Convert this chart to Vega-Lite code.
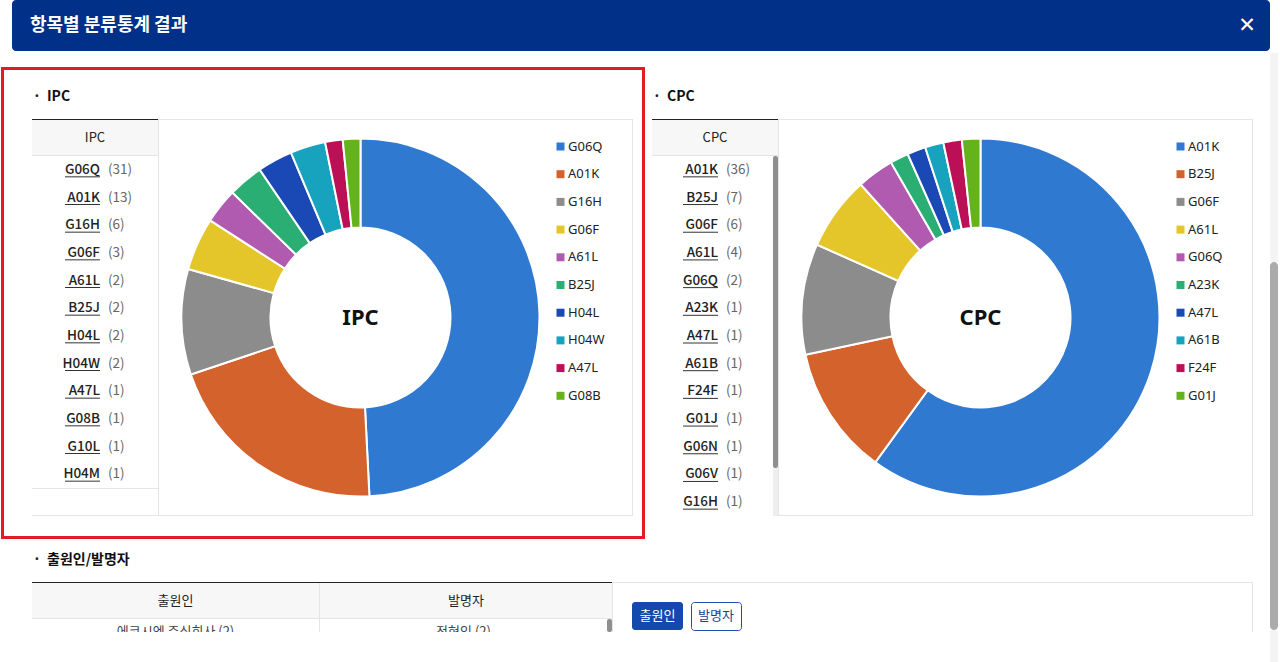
{
"$schema": "https://vega.github.io/schema/vega-lite/v6.json",
"padding": 0,
"background": "#ffffff",
"config": {"view": {"stroke": null}, "concat": {"spacing": 0}},
"datasets": {
 "ipc": [
  {"code": "G06Q", "n": 31, "rank": 1}, {"code": "A01K", "n": 13, "rank": 2}, {"code": "G16H", "n": 6, "rank": 3},
  {"code": "G06F", "n": 3, "rank": 4}, {"code": "A61L", "n": 2, "rank": 5}, {"code": "B25J", "n": 2, "rank": 6},
  {"code": "H04L", "n": 2, "rank": 7}, {"code": "H04W", "n": 2, "rank": 8}, {"code": "A47L", "n": 1, "rank": 9},
  {"code": "G08B", "n": 1, "rank": 10}, {"code": "G10L", "n": 1, "rank": 11}, {"code": "H04M", "n": 1, "rank": 12}
 ],
 "cpc": [
  {"code": "A01K", "n": 36, "rank": 1}, {"code": "B25J", "n": 7, "rank": 2}, {"code": "G06F", "n": 6, "rank": 3},
  {"code": "A61L", "n": 4, "rank": 4}, {"code": "G06Q", "n": 2, "rank": 5}, {"code": "A23K", "n": 1, "rank": 6},
  {"code": "A47L", "n": 1, "rank": 7}, {"code": "A61B", "n": 1, "rank": 8}, {"code": "F24F", "n": 1, "rank": 9},
  {"code": "G01J", "n": 1, "rank": 10}, {"code": "G06N", "n": 1, "rank": 11}, {"code": "G06V", "n": 1, "rank": 12},
  {"code": "G16H", "n": 1, "rank": 13}
 ]
},
"spacing": 0,
"resolve": {"scale": {"color": "independent"}, "legend": {"color": "independent"}},
"hconcat": [
 {"spacing": 0, "resolve": {"scale": {"color": "independent"}, "legend": {"color": "independent"}},
  "vconcat": [
   {"spacing": 0, "hconcat": [
     {"width": 12, "height": 51, "data": {"values": []}, "mark": "point", "encoding": {}},
     {"width": 1258, "height": 51, "view": {"fill": "#003087", "cornerRadius": 4},
      "data": {"values": [{"t": "항목별 분류통계 결과"}]},
      "layer": [
       {"mark": {"type": "text", "font": "Noto Sans CJK KR", "fontSize": 18, "fontWeight": "bold", "color": "#ffffff", "align": "left", "baseline": "middle"},
        "encoding": {"x": {"value": 18}, "y": {"value": 26}, "text": {"field": "t"}}},
       {"mark": {"type": "text", "font": "DejaVu Sans", "fontSize": 21, "fontWeight": "bold", "color": "#ffffff", "align": "center", "baseline": "middle"},
        "encoding": {"x": {"value": 1235}, "y": {"value": 26}, "text": {"value": "✕"}}}
      ]}
   ]},
   {"width": 1270, "height": 16, "data": {"values": []}, "mark": "point", "encoding": {}},
   {"spacing": 0, "resolve": {"scale": {"color": "independent"}, "legend": {"color": "independent"}},
    "hconcat": [
     {"width": 1, "height": 472, "data": {"values": []}, "mark": "point", "encoding": {}},
     {"spacing": 0, "resolve": {"scale": {"color": "independent"}, "legend": {"color": "independent"}},
      "vconcat": [
       {"width": 644, "height": 3, "view": {"fill": "#e31b23"}, "data": {"values": []}, "mark": "point", "encoding": {}},
       {"spacing": 0, "resolve": {"scale": {"color": "independent"}, "legend": {"color": "independent"}},
        "hconcat": [
         {"width": 3, "height": 466, "view": {"fill": "#e31b23"}, "data": {"values": []}, "mark": "point", "encoding": {}},
         {"spacing": 0, "resolve": {"scale": {"color": "independent"}, "legend": {"color": "independent"}},
          "vconcat": [
           {"width": 638, "height": 49, "data": {"values": [{"t": "IPC"}]},
            "layer": [
             {"mark": {"type": "text", "font": "Noto Sans CJK KR", "fontSize": 14, "fontWeight": "bold", "color": "#222222", "align": "center", "baseline": "middle"},
              "encoding": {"x": {"value": 33}, "y": {"value": 27}, "text": {"value": "·"}}},
             {"mark": {"type": "text", "font": "Noto Sans CJK KR", "fontSize": 14, "fontWeight": "bold", "color": "#111111", "align": "left", "baseline": "middle"},
              "encoding": {"x": {"value": 43}, "y": {"value": 27}, "text": {"field": "t"}}}
            ]},
           {"spacing": 0, "resolve": {"scale": {"color": "independent"}, "legend": {"color": "independent"}},
            "hconcat": [
             {"width": 28, "height": 397, "data": {"values": []}, "mark": "point", "encoding": {}},
             {"spacing": 0, "vconcat": [
               {"width": 126, "height": 1, "view": {"fill": "#222222"}, "data": {"values": []}, "mark": "point", "encoding": {}},
               {"width": 126, "height": 35, "view": {"fill": "#f7f7f7"}, "data": {"values": [{"t": "IPC"}]},
                "mark": {"type": "text", "font": "Noto Sans CJK KR", "fontSize": 13, "color": "#222222"}, "encoding": {"text": {"field": "t"}}},
               {"width": 126, "height": 1, "view": {"fill": "#e5e5e5"}, "data": {"values": []}, "mark": "point", "encoding": {}},
               {"width": 126, "height": 332, "data": {"name": "ipc"},
                "transform": [{"calculate": "'(' + datum.n + ')'", "as": "label"}],
                "encoding": {"y": {"field": "code", "type": "nominal", "sort": null, "axis": null}},
                "layer": [
                 {"mark": {"type": "text", "align": "right", "baseline": "middle", "font": "Noto Sans CJK KR", "fontSize": 13.5, "fontWeight": 500, "color": "#222222"},
                  "encoding": {"x": {"value": 68}, "text": {"field": "code"}}},
                 {"mark": {"type": "text", "align": "left", "baseline": "middle", "font": "Noto Sans CJK KR", "fontSize": 13.5, "color": "#666666"},
                  "encoding": {"x": {"value": 76}, "text": {"field": "label"}}},
                 {"mark": {"type": "rule", "color": "#333333", "strokeWidth": 1, "yOffset": 7},
                  "encoding": {"x": {"value": 33}, "x2": {"value": 68}}}
                ]},
               {"width": 126, "height": 1, "view": {"fill": "#e5e5e5"}, "data": {"values": []}, "mark": "point", "encoding": {}},
               {"width": 126, "height": 26, "data": {"values": []}, "mark": "point", "encoding": {}},
               {"width": 126, "height": 1, "view": {"fill": "#e5e5e5"}, "data": {"values": []}, "mark": "point", "encoding": {}}
             ]},
             {"spacing": 0, "resolve": {"scale": {"color": "independent"}, "legend": {"color": "independent"}},
              "vconcat": [
               {"width": 475, "height": 1, "view": {"fill": "#e5e5e5"}, "data": {"values": []}, "mark": "point", "encoding": {}},
               {"spacing": 0, "bounds": "flush", "resolve": {"scale": {"color": "independent"}, "legend": {"color": "independent"}},
                "hconcat": [
                 {"width": 1, "height": 395, "view": {"fill": "#e5e5e5"}, "data": {"values": []}, "mark": "point", "encoding": {}},
                 {"width": 403, "height": 395,
                  "layer": [
                   {"data": {"name": "ipc"}, "transform": [{"filter": "datum.rank <= 10"}],
                    "mark": {"type": "arc", "innerRadius": 90, "outerRadius": 179, "stroke": "#ffffff", "strokeWidth": 2},
                    "encoding": {
                     "theta": {"field": "n", "type": "quantitative", "stack": true},
                     "order": {"field": "rank", "type": "quantitative"},
                     "color": {"field": "code", "type": "nominal",
                      "scale": {"domain": ["G06Q","A01K","G16H","G06F","A61L","B25J","H04L","H04W","A47L","G08B"],
                                "range": ["#3079d1","#d4622c","#8c8c8c","#e4c62a","#b05bb0","#2aae73","#1a48b5","#17a3bd","#bb0f56","#64b31d"]},
                      "legend": {"orient": "none", "legendX": 395, "legendY": 20, "title": null, "symbolType": "square", "symbolSize": 64, "symbolStrokeWidth": 0,
                                 "labelFont": "Noto Sans", "labelFontSize": 13, "labelColor": "#222222", "rowPadding": 13.7, "padding": 0, "labelOffset": 1, "direction": "vertical"}}
                    }},
                   {"data": {"values": [{"t": "IPC"}]},
                    "mark": {"type": "text", "font": "Noto Sans", "fontSize": 22, "fontWeight": "bold", "color": "#111111"},
                    "encoding": {"text": {"field": "t"}}}
                  ]},
                 {"width": 70, "height": 395, "data": {"values": []}, "mark": "point", "encoding": {}},
                 {"width": 1, "height": 395, "view": {"fill": "#e5e5e5"}, "data": {"values": []}, "mark": "point", "encoding": {}}
                ]},
               {"width": 475, "height": 1, "view": {"fill": "#e5e5e5"}, "data": {"values": []}, "mark": "point", "encoding": {}}
             ]},
             {"width": 9, "height": 397, "data": {"values": []}, "mark": "point", "encoding": {}}
            ]},
           {"width": 638, "height": 20, "data": {"values": []}, "mark": "point", "encoding": {}}
          ]},
         {"width": 3, "height": 466, "view": {"fill": "#e31b23"}, "data": {"values": []}, "mark": "point", "encoding": {}}
        ]},
       {"width": 644, "height": 3, "view": {"fill": "#e31b23"}, "data": {"values": []}, "mark": "point", "encoding": {}}
      ]},
     {"width": 7, "height": 472, "data": {"values": []}, "mark": "point", "encoding": {}},
     {"spacing": 0, "resolve": {"scale": {"color": "independent"}, "legend": {"color": "independent"}},
      "vconcat": [
       {"width": 601, "height": 52, "data": {"values": [{"t": "CPC"}]},
        "layer": [
         {"mark": {"type": "text", "font": "Noto Sans CJK KR", "fontSize": 14, "fontWeight": "bold", "color": "#222222", "align": "center", "baseline": "middle"},
          "encoding": {"x": {"value": 5}, "y": {"value": 30}, "text": {"value": "·"}}},
         {"mark": {"type": "text", "font": "Noto Sans CJK KR", "fontSize": 14, "fontWeight": "bold", "color": "#111111", "align": "left", "baseline": "middle"},
          "encoding": {"x": {"value": 15}, "y": {"value": 30}, "text": {"field": "t"}}}
        ]},
       {"spacing": 0, "resolve": {"scale": {"color": "independent"}, "legend": {"color": "independent"}},
        "hconcat": [
         {"spacing": 0, "vconcat": [
           {"width": 126, "height": 1, "view": {"fill": "#222222"}, "data": {"values": []}, "mark": "point", "encoding": {}},
           {"width": 126, "height": 35, "view": {"fill": "#f7f7f7"}, "data": {"values": [{"t": "CPC"}]},
            "mark": {"type": "text", "font": "Noto Sans CJK KR", "fontSize": 13, "color": "#222222"}, "encoding": {"text": {"field": "t"}}},
           {"width": 126, "height": 1, "view": {"fill": "#e5e5e5"}, "data": {"values": []}, "mark": "point", "encoding": {}},
           {"spacing": 0, "hconcat": [
             {"width": 121, "height": 360, "data": {"name": "cpc"},
              "transform": [{"calculate": "'(' + datum.n + ')'", "as": "label"}],
              "encoding": {"y": {"field": "code", "type": "nominal", "sort": null, "axis": null}},
              "layer": [
               {"mark": {"type": "text", "align": "right", "baseline": "middle", "font": "Noto Sans CJK KR", "fontSize": 13.5, "fontWeight": 500, "color": "#222222"},
                "encoding": {"x": {"value": 66}, "text": {"field": "code"}}},
               {"mark": {"type": "text", "align": "left", "baseline": "middle", "font": "Noto Sans CJK KR", "fontSize": 13.5, "color": "#666666"},
                "encoding": {"x": {"value": 74}, "text": {"field": "label"}}},
               {"mark": {"type": "rule", "color": "#333333", "strokeWidth": 1, "yOffset": 7},
                "encoding": {"x": {"value": 31}, "x2": {"value": 66}}}
              ]},
             {"spacing": 0, "vconcat": [
               {"width": 5, "height": 312, "view": {"fill": "#8f8f8f", "cornerRadius": 2}, "data": {"values": []}, "mark": "point", "encoding": {}},
               {"width": 5, "height": 48, "view": {"fill": "#eeeeee"}, "data": {"values": []}, "mark": "point", "encoding": {}}
             ]}
           ]}
         ]},
         {"spacing": 0, "resolve": {"scale": {"color": "independent"}, "legend": {"color": "independent"}},
          "vconcat": [
           {"width": 475, "height": 1, "view": {"fill": "#e5e5e5"}, "data": {"values": []}, "mark": "point", "encoding": {}},
           {"spacing": 0, "bounds": "flush", "resolve": {"scale": {"color": "independent"}, "legend": {"color": "independent"}},
            "hconcat": [
             {"width": 1, "height": 395, "view": {"fill": "#e5e5e5"}, "data": {"values": []}, "mark": "point", "encoding": {}},
             {"width": 403, "height": 395,
              "layer": [
               {"data": {"name": "cpc"}, "transform": [{"filter": "datum.rank <= 10"}],
                "mark": {"type": "arc", "innerRadius": 90, "outerRadius": 179, "stroke": "#ffffff", "strokeWidth": 2},
                "encoding": {
                 "theta": {"field": "n", "type": "quantitative", "stack": true},
                 "order": {"field": "rank", "type": "quantitative"},
                 "color": {"field": "code", "type": "nominal",
                  "scale": {"domain": ["A01K","B25J","G06F","A61L","G06Q","A23K","A47L","A61B","F24F","G01J"],
                            "range": ["#3079d1","#d4622c","#8c8c8c","#e4c62a","#b05bb0","#2aae73","#1a48b5","#17a3bd","#bb0f56","#64b31d"]},
                  "legend": {"orient": "none", "legendX": 395, "legendY": 20, "title": null, "symbolType": "square", "symbolSize": 64, "symbolStrokeWidth": 0,
                             "labelFont": "Noto Sans", "labelFontSize": 13, "labelColor": "#222222", "rowPadding": 13.7, "padding": 0, "labelOffset": 1, "direction": "vertical"}}
                }},
               {"data": {"values": [{"t": "CPC"}]},
                "mark": {"type": "text", "font": "Noto Sans", "fontSize": 22, "fontWeight": "bold", "color": "#111111"},
                "encoding": {"text": {"field": "t"}}}
              ]},
             {"width": 70, "height": 395, "data": {"values": []}, "mark": "point", "encoding": {}},
             {"width": 1, "height": 395, "view": {"fill": "#e5e5e5"}, "data": {"values": []}, "mark": "point", "encoding": {}}
            ]},
           {"width": 475, "height": 1, "view": {"fill": "#e5e5e5"}, "data": {"values": []}, "mark": "point", "encoding": {}}
         ]}
        ]},
       {"width": 601, "height": 23, "data": {"values": []}, "mark": "point", "encoding": {}}
      ]},
     {"width": 17, "height": 472, "data": {"values": []}, "mark": "point", "encoding": {}}
    ]},
   {"spacing": 0, "vconcat": [
     {"width": 1270, "height": 43, "data": {"values": [{"t": "출원인/발명자"}]},
      "layer": [
       {"mark": {"type": "text", "font": "Noto Sans CJK KR", "fontSize": 14, "fontWeight": "bold", "color": "#222222", "align": "center", "baseline": "middle"},
        "encoding": {"x": {"value": 37}, "y": {"value": 21}, "text": {"value": "·"}}},
       {"mark": {"type": "text", "font": "Noto Sans CJK KR", "fontSize": 14, "fontWeight": "bold", "color": "#111111", "align": "left", "baseline": "middle"},
        "encoding": {"x": {"value": 47}, "y": {"value": 21}, "text": {"field": "t"}}}
      ]},
     {"spacing": 0, "hconcat": [
       {"width": 32, "height": 50, "data": {"values": []}, "mark": "point", "encoding": {}},
       {"spacing": 0, "vconcat": [
         {"width": 580, "height": 1, "view": {"fill": "#222222"}, "data": {"values": []}, "mark": "point", "encoding": {}},
         {"spacing": 0, "hconcat": [
           {"width": 287, "height": 35, "view": {"fill": "#f7f7f7"}, "data": {"values": [{"t": "출원인"}]},
            "mark": {"type": "text", "font": "Noto Sans CJK KR", "fontSize": 13, "color": "#222222"}, "encoding": {"text": {"field": "t"}}},
           {"width": 1, "height": 35, "view": {"fill": "#e5e5e5"}, "data": {"values": []}, "mark": "point", "encoding": {}},
           {"width": 292, "height": 35, "view": {"fill": "#f7f7f7"}, "data": {"values": [{"t": "발명자"}]},
            "mark": {"type": "text", "font": "Noto Sans CJK KR", "fontSize": 13, "color": "#222222"}, "encoding": {"text": {"field": "t"}}}
         ]},
         {"width": 580, "height": 1, "view": {"fill": "#e5e5e5"}, "data": {"values": []}, "mark": "point", "encoding": {}},
         {"spacing": 0, "hconcat": [
           {"width": 287, "height": 13, "data": {"values": [{"t": "에코시엔 주식회사 (2)"}]},
            "mark": {"type": "text", "font": "Noto Sans CJK KR", "fontSize": 13, "color": "#444444", "baseline": "top", "clip": true}, "encoding": {"text": {"field": "t"}}},
           {"width": 1, "height": 13, "view": {"fill": "#e5e5e5"}, "data": {"values": []}, "mark": "point", "encoding": {}},
           {"width": 287, "height": 13, "data": {"values": [{"t": "정현인 (2)"}]},
            "mark": {"type": "text", "font": "Noto Sans CJK KR", "fontSize": 13, "color": "#444444", "baseline": "top", "clip": true}, "encoding": {"text": {"field": "t"}}},
           {"width": 5, "height": 13, "view": {"fill": "#8f8f8f", "cornerRadius": 2}, "data": {"values": []}, "mark": "point", "encoding": {}}
         ]}
       ]},
       {"spacing": 0, "hconcat": [
         {"width": 1, "height": 50, "view": {"fill": "#e5e5e5"}, "data": {"values": []}, "mark": "point", "encoding": {}},
         {"spacing": 0, "vconcat": [
           {"width": 639, "height": 1, "view": {"fill": "#e5e5e5"}, "data": {"values": []}, "mark": "point", "encoding": {}},
           {"width": 639, "height": 18, "data": {"values": []}, "mark": "point", "encoding": {}},
           {"spacing": 0, "hconcat": [
             {"width": 19, "height": 28, "data": {"values": []}, "mark": "point", "encoding": {}},
             {"width": 51, "height": 28, "view": {"fill": "#1448ae", "cornerRadius": 3}, "data": {"values": [{"t": "출원인"}]},
              "mark": {"type": "text", "font": "Noto Sans CJK KR", "fontSize": 13, "color": "#ffffff"}, "encoding": {"text": {"field": "t"}}},
             {"width": 7, "height": 28, "data": {"values": []}, "mark": "point", "encoding": {}},
             {"width": 50, "height": 28, "view": {"fill": "#ffffff", "stroke": "#1f4fa8", "strokeWidth": 1, "cornerRadius": 3}, "data": {"values": [{"t": "발명자"}]},
              "mark": {"type": "text", "font": "Noto Sans CJK KR", "fontSize": 13, "color": "#1c3f8f"}, "encoding": {"text": {"field": "t"}}}
           ]},
           {"width": 639, "height": 3, "data": {"values": []}, "mark": "point", "encoding": {}}
         ]},
         {"width": 1, "height": 50, "view": {"fill": "#e5e5e5"}, "data": {"values": []}, "mark": "point", "encoding": {}}
       ]},
       {"width": 17, "height": 50, "data": {"values": []}, "mark": "point", "encoding": {}}
     ]},
     {"width": 1270, "height": 28, "data": {"values": []}, "mark": "point", "encoding": {}},
     {"spacing": 0, "hconcat": [
       {"width": 12, "height": 2, "data": {"values": []}, "mark": "point", "encoding": {}},
       {"width": 1258, "height": 2, "view": {"fill": "#d9d9d9"}, "data": {"values": []}, "mark": "point", "encoding": {}}
     ]}
   ]}
  ]},
 {"spacing": 0, "vconcat": [
   {"width": 8, "height": 53, "data": {"values": []}, "mark": "point", "encoding": {}},
   {"width": 8, "height": 209, "view": {"fill": "#f4f4f4"}, "data": {"values": []}, "mark": "point", "encoding": {}},
   {"width": 8, "height": 368, "view": {"fill": "#ababab", "cornerRadius": 4}, "data": {"values": []}, "mark": "point", "encoding": {}},
   {"width": 8, "height": 32, "view": {"fill": "#f4f4f4"}, "data": {"values": []}, "mark": "point", "encoding": {}}
 ]}
]
}
